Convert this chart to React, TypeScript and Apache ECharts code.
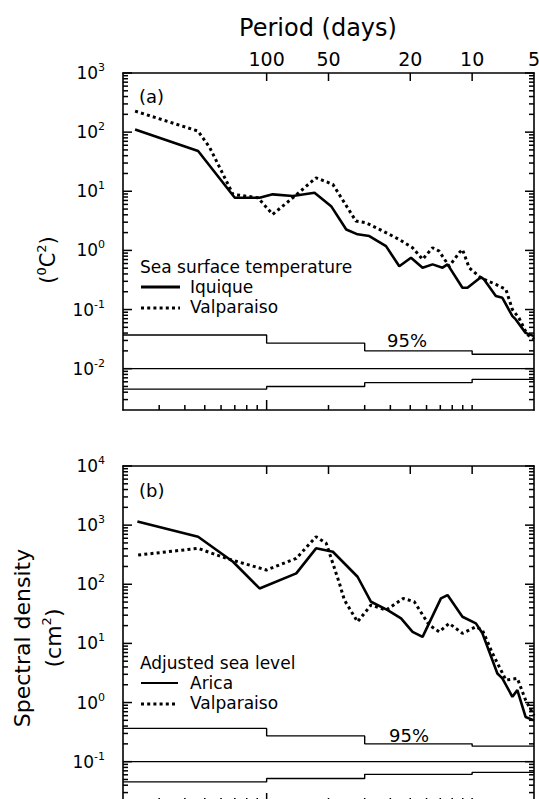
import React, { useEffect, useRef, useState } from "react";
import * as echarts from "echarts";

const FONT = "DejaVu Sans";

// Frequency axis (cycles/day); top axis labelled as period in days
const freqRange = [0.002, 0.2];
const periodLabels = [100, 50, 20, 10, 5];
const periodTicks = [100, 50, 20, 10];
const bottomMajorTicks = [0.01];
const bottomMinorTicks = [0.003, 0.004, 0.005, 0.006, 0.007, 0.008, 0.009, 0.02, 0.03, 0.04, 0.05, 0.06, 0.07, 0.08, 0.09, 0.1];

// Panel (a) sea surface temperature spectra (°C²)
const rangeA = [0.002, 1000];
const decadesA = [-2, -1, 0, 1, 2, 3];
const sstIquiqueFreq = [0.00229, 0.00464, 0.0070, 0.00924, 0.0107, 0.0134, 0.0171, 0.0206, 0.0244, 0.0277, 0.0316, 0.0381, 0.0442, 0.0504, 0.0574, 0.0642, 0.0718, 0.0759, 0.0897, 0.0949, 0.1102, 0.1143, 0.1304, 0.1403, 0.157, 0.163, 0.182, 0.2];
const sstIquique = [111, 47.9, 7.76, 7.76, 8.87, 8.3, 9.44, 5.6, 2.26, 1.87, 1.75, 1.18, 0.54, 0.75, 0.51, 0.58, 0.51, 0.58, 0.233, 0.233, 0.353, 0.323, 0.169, 0.158, 0.0773, 0.068, 0.0403, 0.0355];
const sstValpFreq = [0.00229, 0.00464, 0.00529, 0.00686, 0.00908, 0.0107, 0.0134, 0.0174, 0.021, 0.0272, 0.0305, 0.0354, 0.0442, 0.0513, 0.0574, 0.0642, 0.0691, 0.0773, 0.0865, 0.0897, 0.0967, 0.1102, 0.1304, 0.146, 0.157, 0.169, 0.185, 0.2];
const sstValp = [227, 104, 54.5, 8.87, 7.76, 4.06, 7.76, 16.9, 13.1, 3.13, 2.93, 2.27, 1.53, 1.11, 0.704, 1.11, 0.97, 0.54, 0.91, 1.04, 0.51, 0.344, 0.266, 0.219, 0.1, 0.072, 0.038, 0.0316];

// Panel (b) adjusted sea level spectra (cm²)
const rangeB = [0.02, 10000];
const decadesB = [-1, 0, 1, 2, 3, 4];
const slAricaFreq = [0.00235, 0.00464, 0.00686, 0.00924, 0.01394, 0.0174, 0.021, 0.0277, 0.0322, 0.0388, 0.0451, 0.0513, 0.0574, 0.0705, 0.0759, 0.0897, 0.1043, 0.1122, 0.1327, 0.1403, 0.157, 0.166, 0.182, 0.2];
const slArica = [1150, 637, 240, 85, 153, 405, 355, 134, 50.6, 36.6, 26.5, 15.7, 12.9, 57.7, 65.6, 28.2, 21.8, 14.8, 3.1, 2.56, 1.25, 1.62, 0.57, 0.5];
const slValpFreq = [0.00237, 0.00464, 0.00637, 0.00997, 0.01394, 0.0174, 0.0195, 0.0226, 0.0239, 0.0277, 0.0322, 0.0381, 0.0462, 0.0523, 0.0618, 0.0691, 0.0773, 0.0897, 0.1043, 0.1122, 0.1256, 0.146, 0.166, 0.182, 0.2];
const slValp = [312, 405, 274, 174, 274, 637, 492, 104, 54, 23.2, 44.5, 36.6, 57.7, 50.6, 20.4, 15.7, 21.8, 14.8, 19.1, 16.8, 6.8, 2.4, 2.56, 1.1, 0.6];

// 95% confidence bands (step edges in frequency)
const ciFreq = [0.002, 0.01, 0.03, 0.1, 0.2];
const ciUpperA = [0.037, 0.027, 0.020, 0.0175];
const ciLowerA = [0.0045, 0.0050, 0.0058, 0.0066];
const ciRefA = 0.01;
const ciUpperB = [0.365, 0.273, 0.200, 0.183];
const ciLowerB = [0.0455, 0.052, 0.061, 0.066];
const ciRefB = 0.1;

const BLACK = "#000";

type Seg = { x1: number; y1: number; x2: number; y2: number };

function minorLogTicks(lo: number, hi: number) {
  const out: number[] = [];
  for (let e = -4; e <= 4; e++) {
    for (let k = 2; k <= 9; k++) {
      const v = Number((k * Math.pow(10, e)).toPrecision(3));
      if (v > lo && v < hi) out.push(v);
    }
  }
  return out;
}

function supExp(e: number) {
  return e < 0 ? "-" + String(-e) : String(e);
}

function decadeValues(decades: number[]) {
  return decades.map((e) => (e === decades[decades.length - 1] ? Math.pow(10, e) * 0.99999 : Math.pow(10, e)));
}

function buildGrid(gi: number, range: number[], decades: number[], showTopLabels: boolean) {
  const axisLine = { show: true, lineStyle: { color: BLACK, width: 1.6 } };
  const decadeVals = decadeValues(decades);
  const xAxes = [
    {
      type: "log", gridIndex: gi, min: freqRange[0], max: freqRange[1], position: "bottom",
      splitLine: { show: false }, axisLine, axisTick: { show: false }, axisLabel: { show: false },
    },
    {
      type: "log", gridIndex: gi, min: freqRange[0], max: freqRange[1], position: "top",
      splitLine: { show: false }, axisLine, axisTick: { show: false },
      axisLabel: {
        show: showTopLabels,
        customValues: periodLabels.map((p) => (p === 5 ? 0.1999999 : 1 / p)),
        formatter: (v: number) => String(Math.round(1 / v)),
        fontFamily: FONT,
        fontSize: 19,
        color: BLACK,
        margin: 5,
      },
    },
  ];
  const yAxes = [
    {
      type: "log", gridIndex: gi, min: range[0], max: range[1], position: "left",
      splitLine: { show: false }, axisLine, axisTick: { show: false },
      axisLabel: {
        customValues: decadeVals,
        formatter: (v: number) => `{b|10}{s|${supExp(Math.round(Math.log10(v)))}}`,
        margin: 18,
        rich: {
          b: { fontFamily: FONT, fontSize: 17, color: BLACK, lineHeight: 22 },
          s: { fontFamily: FONT, fontSize: 11, color: BLACK, lineHeight: 12, verticalAlign: "top" },
        },
      },
    },
    {
      type: "log", gridIndex: gi, min: range[0], max: range[1], position: "right",
      splitLine: { show: false }, axisLine, axisTick: { show: false }, axisLabel: { show: false },
    },
  ];
  return { xAxes, yAxes };
}

// Tick marks: pixel positions obtained from the chart's own log scales
function computeTicks(chart: any, xi: number, yi: number, range: number[], decades: number[]): Seg[] {
  const conv = (finder: any, v: number) => {
    try {
      const r = chart.convertToPixel(finder, v);
      return typeof r === "number" ? r : NaN;
    } catch (e) {
      return NaN;
    }
  };
  const xp = (v: number) => conv({ xAxisIndex: xi }, v);
  const yp = (v: number) => conv({ yAxisIndex: yi }, v);
  const left = xp(freqRange[0]);
  const right = xp(freqRange[1]);
  const top = yp(range[1]);
  const bottom = yp(range[0]);
  const segs: Seg[] = [];
  bottomMajorTicks.forEach((v) => { const x = xp(v); segs.push({ x1: x, y1: bottom, x2: x, y2: bottom - 10 }); });
  bottomMinorTicks.forEach((v) => { const x = xp(v); segs.push({ x1: x, y1: bottom, x2: x, y2: bottom - 5 }); });
  periodTicks.forEach((p) => { const x = xp(1 / p); segs.push({ x1: x, y1: top, x2: x, y2: top + 8 }); });
  decadeValues(decades).forEach((v) => {
    const y = yp(v);
    segs.push({ x1: left, y1: y, x2: left + 9, y2: y });
    segs.push({ x1: right, y1: y, x2: right - 9, y2: y });
  });
  minorLogTicks(range[0], range[1]).forEach((v) => {
    const y = yp(v);
    segs.push({ x1: left, y1: y, x2: left + 5, y2: y });
    segs.push({ x1: right, y1: y, x2: right - 5, y2: y });
  });
  return segs.filter((s) => [s.x1, s.y1, s.x2, s.y2].every((n) => Number.isFinite(n)));
}

function pairs(xs: number[], ys: number[]) {
  return xs.map((x, i) => [x, ys[i]]);
}

function stepData(vals: number[]) {
  return ciFreq.map((f, i) => [f, vals[Math.min(i, vals.length - 1)]]);
}

export default function App() {
  const ref = useRef<HTMLDivElement>(null);
  const [ticks, setTicks] = useState<Seg[]>([]);
  useEffect(() => {
    if (!ref.current) return;
    const chart = echarts.init(ref.current, undefined, { renderer: "svg" });
    const gA = buildGrid(0, rangeA, decadesA, true);
    const gB = buildGrid(1, rangeB, decadesB, false);

    const solid = { color: BLACK, width: 2.6, type: "solid" };
    const dotted = { color: BLACK, width: 3, type: [3, 3.2] };
    const thin = { color: BLACK, width: 1.4, type: "solid" };

    const lineSeries = (name: string, xi: number, yi: number, data: number[][], lineStyle: any, extra: any = {}) => ({
      name,
      type: "line",
      xAxisIndex: xi,
      yAxisIndex: yi,
      data,
      symbol: "none",
      showSymbol: false,
      lineStyle,
      ...extra,
    });

    // axis indices: grid a -> x 0 (bottom), 1 (top); y 0 (left), 1 (right)
    //               grid b -> x 2, 3; y 2, 3
    const series = [
      lineSeries("Valparaiso SST", 0, 0, pairs(sstValpFreq, sstValp), dotted),
      lineSeries("Iquique", 0, 0, pairs(sstIquiqueFreq, sstIquique), solid),
      lineSeries("CI upper a", 0, 0, stepData(ciUpperA), thin, { step: "end" }),
      lineSeries("CI ref a", 0, 0, [[ciFreq[0], ciRefA], [ciFreq[ciFreq.length - 1], ciRefA]], thin),
      lineSeries("CI lower a", 0, 0, stepData(ciLowerA), thin, { step: "end" }),
      lineSeries("Valparaiso SL", 2, 2, pairs(slValpFreq, slValp), dotted),
      lineSeries("Arica", 2, 2, pairs(slAricaFreq, slArica), solid),
      lineSeries("CI upper b", 2, 2, stepData(ciUpperB), thin, { step: "end" }),
      lineSeries("CI ref b", 2, 2, [[ciFreq[0], ciRefB], [ciFreq[ciFreq.length - 1], ciRefB]], thin),
      lineSeries("CI lower b", 2, 2, stepData(ciLowerB), thin, { step: "end" }),
    ];

    const txt = (text: string, x: number, y: number, size: number, align = "left") => ({
      type: "text",
      x,
      y,
      style: { text, fontFamily: FONT, fontSize: size, fill: BLACK, align, verticalAlign: "middle" },
    });

    const legendText = (lines: string[], x: number, yTop: number) => ({
      type: "text",
      x,
      y: yTop,
      style: {
        text: lines.map((l, i) => (i === 0 ? `{t|${l}}` : `{i|${l}}`)).join("\n"),
        align: "left",
        verticalAlign: "top",
        rich: {
          t: { fontFamily: FONT, fontSize: 17, fill: BLACK, lineHeight: 20 },
          i: { fontFamily: FONT, fontSize: 17, fill: BLACK, lineHeight: 20, padding: [0, 0, 0, 50] },
        },
      },
    });

    const rotated = (text: string, x: number, y: number, size: number, rich?: any) => ({
      type: "text",
      x,
      y,
      rotation: Math.PI / 2,
      style: { text, fontFamily: FONT, fontSize: size, fill: BLACK, align: "center", verticalAlign: "middle", rich },
    });

    const graphic: any[] = [
      txt("Period (days)", 318, 28, 24, "center"),
      txt("(a)", 139, 96, 18),
      txt("(b)", 139, 490, 18),
      legendText(["Sea surface temperature", "Iquique", "Valparaiso"], 140, 257),
      { type: "line", shape: { x1: 141, y1: 287, x2: 180, y2: 287 }, style: { stroke: BLACK, lineWidth: 3 } },
      { type: "line", shape: { x1: 141, y1: 308, x2: 180, y2: 308 }, style: { stroke: BLACK, lineWidth: 3, lineDash: [3, 3.2] } },
      txt("95%", 407, 340, 18, "center"),
      legendText(["Adjusted sea level", "Arica", "Valparaiso"], 140, 653),
      { type: "line", shape: { x1: 141, y1: 683, x2: 178, y2: 683 }, style: { stroke: BLACK, lineWidth: 2.2 } },
      { type: "line", shape: { x1: 141, y1: 704, x2: 178, y2: 704 }, style: { stroke: BLACK, lineWidth: 3, lineDash: [3, 3.2] } },
      txt("95%", 409, 735, 18, "center"),
      rotated("{b|(}{s|0}{b|C}{s|2}{b|)}", 48, 260, 21, {
        b: { fontFamily: FONT, fontSize: 21, fill: BLACK, lineHeight: 26 },
        s: { fontFamily: FONT, fontSize: 13, fill: BLACK, lineHeight: 14, verticalAlign: "top" },
      }),
      rotated("Spectral density", 22, 638, 22),
      rotated("{b|(cm}{s|2}{b|)}", 53, 638, 22, {
        b: { fontFamily: FONT, fontSize: 22, fill: BLACK, lineHeight: 26 },
        s: { fontFamily: FONT, fontSize: 13, fill: BLACK, lineHeight: 14, verticalAlign: "top" },
      }),
    ];

    chart.setOption({
      animation: false,
      backgroundColor: "#fff",
      grid: [
        { left: 123, top: 73, width: 411, height: 337, containLabel: false, outerBoundsMode: "none" },
        { left: 123, top: 466, width: 411, height: 337, containLabel: false, outerBoundsMode: "none" },
      ],
      xAxis: [...gA.xAxes, ...gB.xAxes],
      yAxis: [...gA.yAxes, ...gB.yAxes],
      series,
      graphic,
    });

    let segs: Seg[] = [];
    try {
      segs = [
        ...computeTicks(chart, 0, 0, rangeA, decadesA),
        ...computeTicks(chart, 2, 2, rangeB, decadesB),
      ];
    } catch (e) {
      segs = [];
    }
    setTicks(segs);
    return () => chart.dispose();
  }, []);
  return (
    <>
      <div ref={ref} style={{ position: "absolute", left: 0, top: 0, width: 539, height: 799 }} />
      <svg
        width={539}
        height={799}
        style={{ position: "absolute", left: 0, top: 0, pointerEvents: "none" }}
      >
        {ticks.map((s, i) => (
          <line key={i} x1={s.x1} y1={s.y1} x2={s.x2} y2={s.y2} stroke={BLACK} strokeWidth={1.5} />
        ))}
      </svg>
    </>
  );
}
